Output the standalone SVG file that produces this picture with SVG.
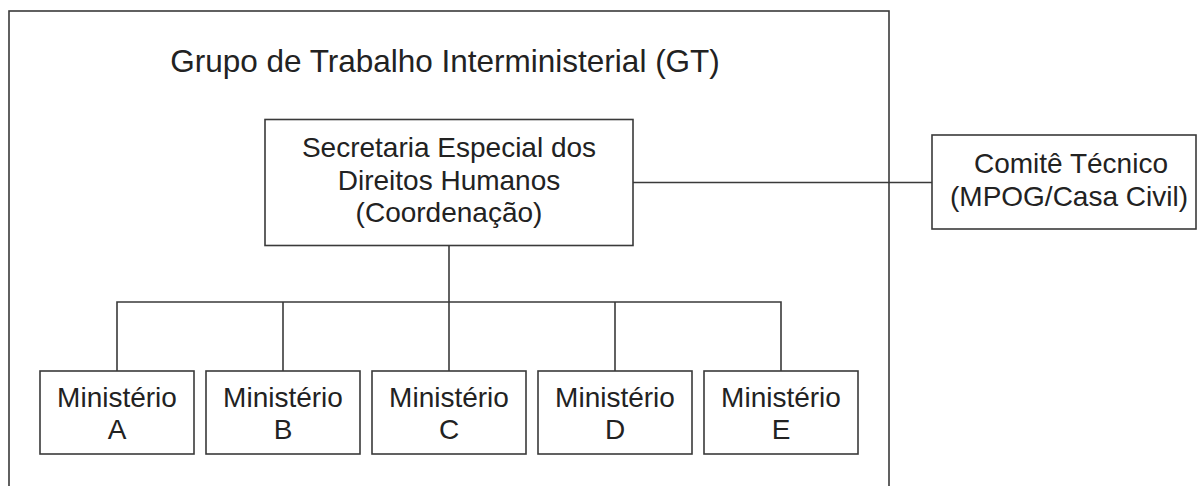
<svg xmlns="http://www.w3.org/2000/svg" width="1198" height="486" viewBox="0 0 1198 486">
<style>
.box{fill:#fff;stroke:#3a3a3a;stroke-width:1.6}
.ln{fill:none;stroke:#3a3a3a;stroke-width:1.6}
text{font-family:"Liberation Sans",Arial,sans-serif;font-size:28px;fill:#222;text-anchor:middle}
.title{font-size:31.5px}
</style>
<rect width="1198" height="486" fill="#fff"/>
<g id="gt">
<rect class="box" x="9" y="11" width="880" height="490"/>
<text class="title" x="445" y="72">Grupo de Trabalho Interministerial (GT)</text>
</g>
<g id="connectors">
<line class="ln" x1="633" y1="182.5" x2="932" y2="182.5"/>
<line class="ln" x1="449" y1="246" x2="449" y2="371"/>
<polyline class="ln" points="117,371 117,302 781,302 781,371"/>
<line class="ln" x1="283" y1="302" x2="283" y2="371"/>
<line class="ln" x1="615" y1="302" x2="615" y2="371"/>
</g>
<g id="secretaria">
<rect class="box" x="265" y="119.5" width="368" height="126"/>
<text x="449" y="157">Secretaria Especial dos</text>
<text x="449" y="190">Direitos Humanos</text>
<text x="449" y="222">(Coordenação)</text>
</g>
<g id="comite">
<rect class="box" x="932" y="135" width="264" height="94"/>
<text x="1071" y="173">Comitê Técnico</text>
<text x="1069" y="206">(MPOG/Casa Civil)</text>
</g>
<g id="min-a">
<rect class="box" x="40" y="371" width="154" height="83"/>
<text x="117" y="407">Ministério</text>
<text x="117" y="439">A</text>
</g>
<g id="min-b">
<rect class="box" x="206" y="371" width="154" height="83"/>
<text x="283" y="407">Ministério</text>
<text x="283" y="439">B</text>
</g>
<g id="min-c">
<rect class="box" x="372" y="371" width="154" height="83"/>
<text x="449" y="407">Ministério</text>
<text x="449" y="439">C</text>
</g>
<g id="min-d">
<rect class="box" x="538" y="371" width="154" height="83"/>
<text x="615" y="407">Ministério</text>
<text x="615" y="439">D</text>
</g>
<g id="min-e">
<rect class="box" x="704" y="371" width="154" height="83"/>
<text x="781" y="407">Ministério</text>
<text x="781" y="439">E</text>
</g>
</svg>
